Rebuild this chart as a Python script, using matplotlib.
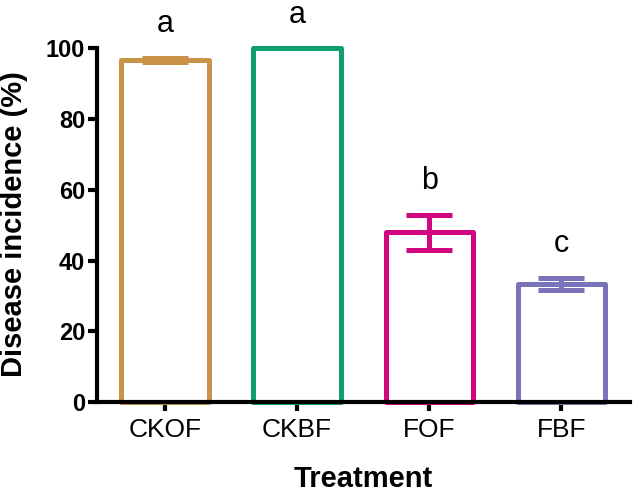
import matplotlib
matplotlib.use("Agg")
import matplotlib.pyplot as plt

categories = ["CKOF", "CKBF", "FOF", "FBF"]
means = [96.7, 100.0, 48.0, 33.4]
errors = [0.7, 0.0, 4.9, 1.7]
letters = ["a", "a", "b", "c"]
colors = ["#C99447", "#0E9F6E", "#D0077F", "#7A73BA"]

plt.rcParams['font.family'] = ['Liberation Sans', 'DejaVu Sans']

fig = plt.figure(figsize=(6.33, 4.94), dpi=100)
ax = fig.add_axes([0.1532, 0.1862, 0.8418, 0.716])

x = list(range(len(categories)))
lw = 3.6
for i in x:
    ax.bar(i, means[i], width=0.66, facecolor="white", edgecolor=colors[i],
           linewidth=lw, joinstyle="round", zorder=2)
    if errors[i] > 0:
        ax.errorbar(i, means[i], yerr=errors[i], color=colors[i], capsize=16.5,
                    capthick=lw, elinewidth=lw, zorder=3)
    top = means[i] + errors[i]
    ax.annotate(letters[i], xy=(i, top), xytext=(0, 18.5),
                textcoords="offset points", ha="center", va="baseline",
                fontsize=22, annotation_clip=False)

ax.set_xlim(-0.515, 3.52)
ax.set_ylim(0, 100)
ax.set_yticks([0, 20, 40, 60, 80, 100])
ax.set_xticks(x)
ax.set_xticklabels(categories)
for s in ["top", "right"]:
    ax.spines[s].set_visible(False)
for s in ["left", "bottom"]:
    ax.spines[s].set_linewidth(3.0)
ax.tick_params(axis="both", width=3.0, length=6.5)
ax.tick_params(axis="x", labelsize=19, pad=5)
ax.tick_params(axis="y", labelsize=17, pad=2)
for lab in ax.get_yticklabels():
    lab.set_fontweight("bold")
ax.set_xlabel("Treatment", fontsize=21, fontweight="bold", va="baseline")
ax.xaxis.set_label_coords(0.5, -0.24)
ax.set_ylabel("Disease incidence (%)", fontsize=21, fontweight="bold", va="center")
ax.yaxis.set_label_coords(-0.156, 0.504)
for sp in ax.spines.values():
    sp.set_zorder(4)
for art in ax.patches + ax.lines:
    art.set_clip_on(False)

fig.savefig("out.png", dpi=100)
